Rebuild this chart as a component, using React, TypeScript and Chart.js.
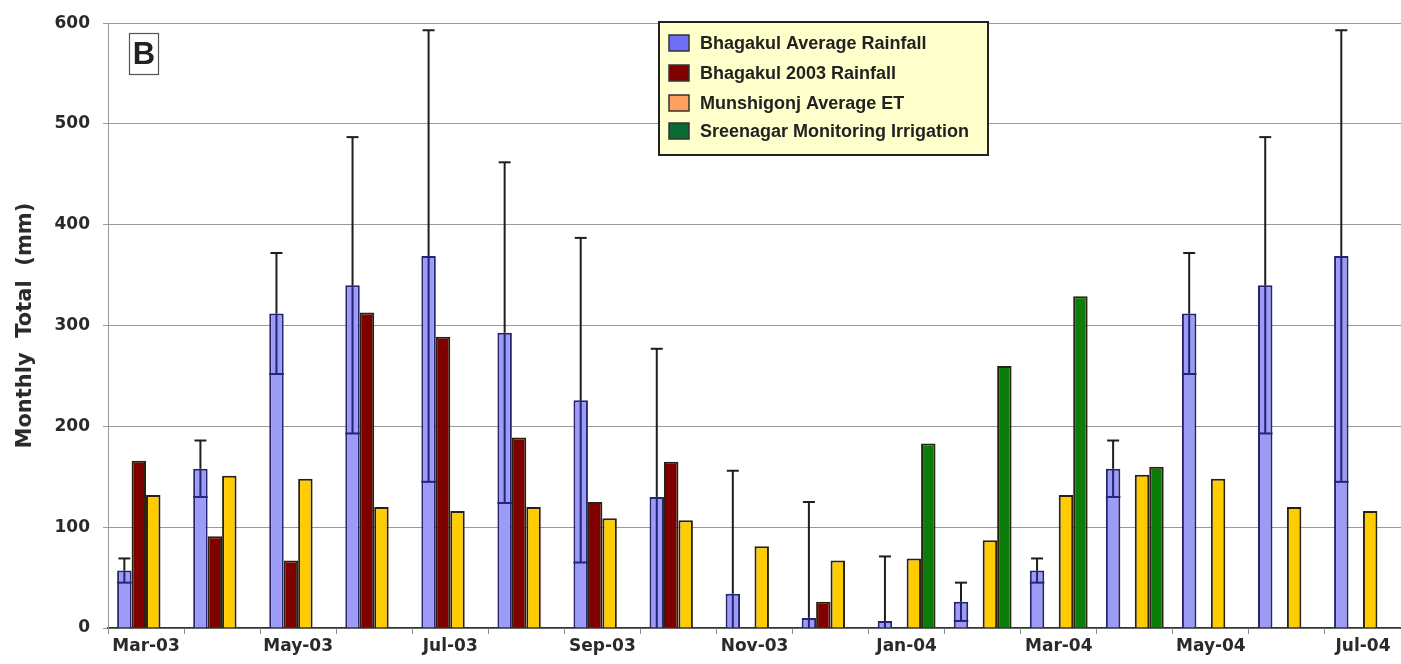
import React, { useEffect, useRef } from "react";
import { Chart, registerables } from "chart.js";

Chart.register(...registerables);

const months = ["Mar-03", "Apr-03", "May-03", "Jun-03", "Jul-03", "Aug-03", "Sep-03", "Oct-03", "Nov-03", "Dec-03", "Jan-04", "Feb-04", "Mar-04", "Apr-04", "May-04", "Jun-04", "Jul-04"];
const avgRain = [57, 158, 312, 340, 369, 293, 226, 130, 34, 10, 7, 26, 57, 158, 312, 340, 369];
const avgRainSd = [12, 28, 60, 147, 224, 169, 161, 147, 122, 115, 64, 19, 12, 28, 60, 147, 224];
const rain2003 = [166, 91, 67, 313, 289, 189, 125, 165, null, 26, null, null, null, null, null, null, null];
const avgET = [132, 151, 148, 120, 116, 120, 109, 107, 81, 67, 69, 87, 132, 152, 148, 120, 116];
const irrigation = [null, null, null, null, null, null, null, null, null, null, 183, 260, 329, 160, null, null, null];
const yTicks = [0, 100, 200, 300, 400, 500, 600];

const seriesNames = ["Bhagakul Average Rainfall", "Bhagakul 2003 Rainfall", "Munshigonj Average ET", "Sreenagar Monitoring Irrigation"];
const legendSwatches = ["#6f6ff5", "#800000", "#ffa060", "#0b6b35"];

const FONT = "'DejaVu Sans', sans-serif";
const LFONT = "'Liberation Sans', Arial, sans-serif";

const errorBarPlugin = {
  id: "errorBars",
  afterDatasetsDraw(chart: any) {
    const meta = chart.getDatasetMeta(0);
    const y = chart.scales.y;
    const ctx = chart.ctx;
    ctx.save();
    meta.data.forEach((bar: any, i: number) => {
      const mean = avgRain[i];
      const sd = avgRainSd[i];
      if (mean == null || sd == null) return;
      const x = bar.x;
      const yTop = y.getPixelForValue(mean + sd);
      const lowVal = mean - sd;
      const yLow = y.getPixelForValue(Math.max(0, lowVal));
      const yBar = y.getPixelForValue(mean);
      const half = bar.width / 2;
      ctx.lineWidth = 2;
      ctx.strokeStyle = "#1e1e1e";
      ctx.beginPath();
      ctx.moveTo(x, yTop);
      ctx.lineTo(x, yBar);
      ctx.stroke();
      ctx.beginPath();
      ctx.moveTo(x - 6, yTop);
      ctx.lineTo(x + 6, yTop);
      ctx.stroke();
      ctx.strokeStyle = "#23237a";
      ctx.beginPath();
      ctx.moveTo(x, yBar);
      ctx.lineTo(x, yLow);
      ctx.stroke();
      if (lowVal > 0) {
        ctx.beginPath();
        ctx.moveTo(x - half, yLow);
        ctx.lineTo(x + half, yLow);
        ctx.stroke();
      }
    });
    ctx.restore();
  },
};

const decorPlugin = {
  id: "decor",
  afterDraw(chart: any) {
    const ctx = chart.ctx;
    ctx.save();
    ctx.fillStyle = "#ffffff";
    ctx.fillRect(129, 33, 29, 41);
    ctx.strokeStyle = "#555";
    ctx.lineWidth = 1.2;
    ctx.strokeRect(129.5, 33.5, 29, 41);
    ctx.fillStyle = "#222";
    ctx.font = `bold 31px ${LFONT}`;
    ctx.textAlign = "center";
    ctx.textBaseline = "middle";
    ctx.fillText("B", 144, 55);

    const lx = 659, ly = 22, lw = 329, lh = 133;
    ctx.fillStyle = "#ffffcc";
    ctx.fillRect(lx, ly, lw, lh);
    ctx.strokeStyle = "#222";
    ctx.lineWidth = 2;
    ctx.strokeRect(lx, ly, lw, lh);
    const rows = [43, 73, 103, 131];
    ctx.font = `bold 18px ${LFONT}`;
    ctx.textAlign = "left";
    ctx.textBaseline = "middle";
    seriesNames.forEach((name, i) => {
      ctx.fillStyle = legendSwatches[i];
      ctx.fillRect(669, rows[i] - 8, 20, 16);
      ctx.strokeStyle = "#333";
      ctx.lineWidth = 1.5;
      ctx.strokeRect(669, rows[i] - 8, 20, 16);
      ctx.fillStyle = "#222";
      ctx.fillText(name, 700, rows[i] + 1);
    });
    ctx.restore();
  },
};

export default function App() {
  const ref = useRef<HTMLCanvasElement | null>(null);

  useEffect(() => {
    if (!ref.current) return;
    const barBorder = "#2a2210";
    const chart = new Chart(ref.current, {
      type: "bar",
      data: {
        labels: months,
        datasets: [
          { label: seriesNames[0], data: avgRain, backgroundColor: "#9c9cf6", borderColor: "#25256e", borderWidth: 2 },
          { label: seriesNames[1], data: rain2003, backgroundColor: "#800000", borderColor: barBorder, borderWidth: 2 },
          { label: seriesNames[2], data: avgET, backgroundColor: "#ffcc00", borderColor: barBorder, borderWidth: 2 },
          { label: seriesNames[3], data: irrigation, backgroundColor: "#0a7d0a", borderColor: barBorder, borderWidth: 2 },
        ] as any,
      },
      options: {
        responsive: false,
        animation: false,
        devicePixelRatio: 1,
        layout: { padding: { top: 20, left: 0, right: 0, bottom: 0 } },
        datasets: { bar: { categoryPercentage: 0.76, barPercentage: 1.0 } } as any,
        plugins: {
          legend: { display: false },
          tooltip: { enabled: false },
        },
        scales: {
          x: {
            offset: true,
            grid: { display: true, drawOnChartArea: false, offset: true, tickLength: 6, color: "#888" },
            border: { color: "#333", width: 1.5 },
            ticks: {
              autoSkip: false,
              maxRotation: 0,
              minRotation: 0,
              padding: 2,
              color: "#2a2a2a",
              font: { family: FONT, weight: "bold", size: 17 },
              callback: (_v: any, i: number) => (i % 2 === 0 ? months[i] : ""),
            },
            afterFit: (scale: any) => {
              scale.height = 36;
            },
          },
          y: {
            min: 0,
            max: 600,
            afterBuildTicks: (scale: any) => {
              scale.ticks = yTicks.map((v) => ({ value: v }));
            },
            grid: { color: "#9a9a9a", lineWidth: 1, tickLength: 5 },
            border: { color: "#9a9a9a", width: 1 },
            ticks: {
              padding: 13,
              color: "#2a2a2a",
              font: { family: FONT, weight: "bold", size: 17 },
            },
            title: {
              display: true,
              text: "Monthly  Total  (mm)",
              color: "#2a2a2a",
              font: { family: FONT, weight: "bold", size: 21 },
              padding: { top: 13, bottom: 0 },
            },
            afterFit: (scale: any) => {
              scale.width = 108;
            },
          },
        },
      } as any,
      plugins: [errorBarPlugin, decorPlugin],
    });
    return () => chart.destroy();
  }, []);

  return (
    <div style={{ position: "fixed", left: 0, top: 0, width: 1401, height: 664, overflow: "hidden", background: "#fff" }}>
      <canvas ref={ref} width={1401} height={664} style={{ width: 1401, height: 664, display: "block" }} />
    </div>
  );
}
